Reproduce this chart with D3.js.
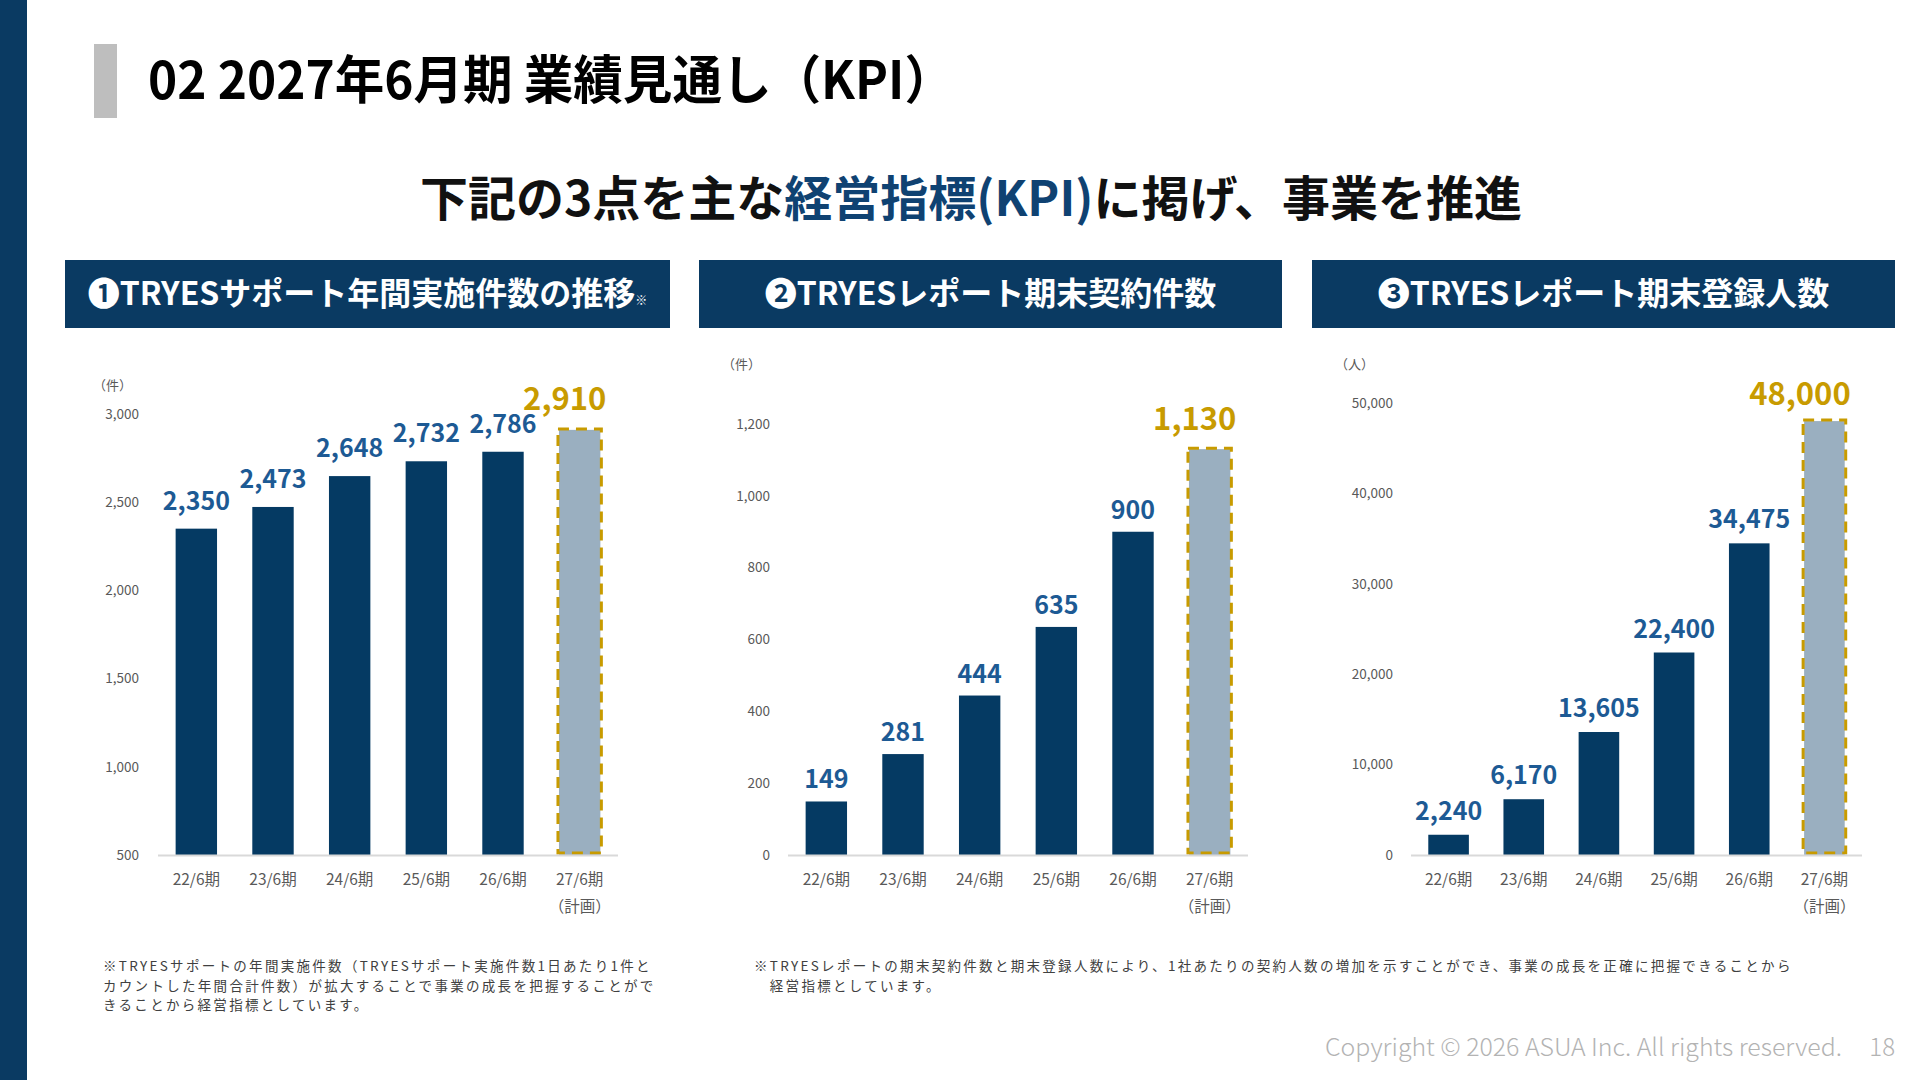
<!DOCTYPE html>
<html lang="ja">
<head>
<meta charset="UTF-8">
<title>2027年6月期 業績見通し（KPI）</title>
<style>
  body { margin: 0; background: #fff; }
  svg { display: block; font-family: "Noto Sans CJK JP", "Noto Sans", sans-serif; }
</style>
</head>
<body>
<script src="https://d3js.org/d3.v7.min.js"></script>
<script>
// data
const periods = ["22/6期", "23/6期", "24/6期", "25/6期", "26/6期", "27/6期"];
const planNote = "（計画）";
const supportCounts = [2350, 2473, 2648, 2732, 2786, 2910];
const contractCounts = [149, 281, 444, 635, 900, 1130];
const memberCounts = [2240, 6170, 13605, 22400, 34475, 48000];
const supportTicks = [500, 1000, 1500, 2000, 2500, 3000];
const contractTicks = [0, 200, 400, 600, 800, 1000, 1200];
const memberTicks = [0, 10000, 20000, 30000, 40000, 50000];
const panelTitles = ["❶TRYESサポート年間実施件数の推移", "❷TRYESレポート期末契約件数", "❸TRYESレポート期末登録人数"];
const units = ["（件）", "（件）", "（人）"];
const footnote1 = [
  "※TRYESサポートの年間実施件数（TRYESサポート実施件数1日あたり1件と",
  "カウントした年間合計件数）が拡大することで事業の成長を把握することがで",
  "きることから経営指標としています。"
];
const footnote2 = [
  "※TRYESレポートの期末契約件数と期末登録人数により、1社あたりの契約人数の増加を示すことができ、事業の成長を正確に把握できることから",
  "　経営指標としています。"
];

const navy = "#0a3a62", barNavy = "#053a63", planFill = "#9aafc0",
      gold = "#c89b00", labelBlue = "#1d5a94", tickGray = "#595959";

const svg = d3.select("body").append("svg")
  .attr("width", 1920).attr("height", 1080);

// left band + title
svg.append("rect").attr("x", 0).attr("y", 0).attr("width", 27).attr("height", 1080).attr("fill", navy);
svg.append("rect").attr("x", 94).attr("y", 44).attr("width", 23).attr("height", 74).attr("fill", "#bebebe");
svg.append("text")
  .attr("x", 148).attr("y", 99)
  .attr("font-size", 52).attr("font-weight", 700).attr("fill", "#000")
  .attr("textLength", 806).attr("lengthAdjust", "spacingAndGlyphs")
  .text("02 2027年6月期 業績見通し（KPI）");

// subtitle
const sub = svg.append("text")
  .attr("x", 971).attr("y", 216)
  .attr("text-anchor", "middle")
  .attr("font-size", 48).attr("font-weight", 700).attr("fill", "#111");
sub.append("tspan").text("下記の3点を主な");
sub.append("tspan").attr("fill", "#0f4272").text("経営指標(KPI)");
sub.append("tspan").text("に掲げ、事業を推進");

// three panels
const panels = [
  { values: supportCounts, ticks: supportTicks, box: [65, 670], x: [158, 618], y: [500, 3000], top: 414, tickX: 139, unit: [93, 385], gap: 19, planGap: 20 },
  { values: contractCounts, ticks: contractTicks, box: [699, 1282], x: [788, 1248], y: [0, 1200], top: 424, tickX: 770, unit: [722, 364], gap: 13, planGap: 19 },
  { values: memberCounts, ticks: memberTicks, box: [1312, 1895], x: [1411, 1862], y: [0, 50000], top: 403, tickX: 1393, unit: [1335, 364], gap: 15, planGap: 16 }
];
const baseY = 855;
const fmt = d3.format(",");

panels.forEach(function(p, i) {
  // header box
  svg.append("rect")
    .attr("x", p.box[0]).attr("y", 260)
    .attr("width", p.box[1] - p.box[0]).attr("height", 68)
    .attr("fill", navy);
  const head = svg.append("text")
    .attr("x", (p.box[0] + p.box[1]) / 2).attr("y", 305)
    .attr("text-anchor", "middle")
    .attr("font-size", 32).attr("font-weight", 700).attr("fill", "#fff");
  head.append("tspan").text(panelTitles[i]);
  if (i === 0) head.append("tspan").attr("font-size", 12).attr("font-weight", 400).text("※");

  const x = d3.scaleBand().domain(periods).range(p.x).paddingInner(0.46).paddingOuter(0.23);
  const y = d3.scaleLinear().domain(p.y).range([baseY, p.top]);

  const g = svg.append("g");

  // unit label
  g.append("text")
    .attr("x", p.unit[0]).attr("y", p.unit[1] + 5)
    .attr("font-size", 13).attr("fill", tickGray)
    .text(units[i]);

  // y tick labels (no axis line)
  const yAxis = g.append("g")
    .attr("transform", "translate(" + p.tickX + ",0)")
    .call(d3.axisLeft(y).tickValues(p.ticks).tickSize(0).tickPadding(0).tickFormat(fmt));
  yAxis.select(".domain").remove();
  yAxis.selectAll("text").attr("font-size", 13.5).attr("fill", tickGray)
    .attr("font-family", "'Noto Sans CJK JP', sans-serif");

  // bars
  const rows = periods.map(function(d, j) { return { period: d, value: p.values[j], plan: j === periods.length - 1 }; });
  g.selectAll("rect.bar")
    .data(rows)
    .enter().append("rect")
    .attr("class", "bar")
    .attr("x", function(d) { return x(d.period); })
    .attr("y", function(d) { return y(d.value); })
    .attr("width", x.bandwidth())
    .attr("height", function(d) { return baseY - y(d.value); })
    .attr("fill", function(d) { return d.plan ? planFill : barNavy; });

  // dashed frame on the plan bar
  const last = rows[rows.length - 1];
  g.append("rect")
    .attr("x", x(last.period) - 1).attr("y", y(last.value) - 1)
    .attr("width", x.bandwidth() + 2).attr("height", baseY - y(last.value) - 1)
    .attr("fill", "none").attr("stroke", gold).attr("stroke-width", 3)
    .attr("stroke-dasharray", "11,7");

  // baseline
  g.append("line")
    .attr("x1", p.x[0]).attr("x2", p.x[1])
    .attr("y1", baseY + 0.5).attr("y2", baseY + 0.5)
    .attr("stroke", "#d9d9d9").attr("stroke-width", 2);

  // value labels (plan label hangs right-aligned past the bar)
  g.selectAll("text.val")
    .data(rows)
    .enter().append("text")
    .attr("class", "val")
    .attr("x", function(d) { return d.plan ? x(d.period) + x.bandwidth() + 6 : x(d.period) + x.bandwidth() / 2; })
    .attr("y", function(d) { return y(d.value) - (d.plan ? p.planGap : p.gap); })
    .attr("text-anchor", function(d) { return d.plan ? "end" : "middle"; })
    .attr("font-weight", 700)
    .attr("font-size", function(d) { return d.plan ? 31 : 25; })
    .attr("fill", function(d) { return d.plan ? gold : labelBlue; })
    .text(function(d) { return fmt(d.value); });

  // category labels
  g.selectAll("text.cat")
    .data(rows)
    .enter().append("text")
    .attr("class", "cat")
    .attr("x", function(d) { return x(d.period) + x.bandwidth() / 2; })
    .attr("y", 885)
    .attr("text-anchor", "middle")
    .attr("font-size", 15.5).attr("fill", tickGray)
    .text(function(d) { return d.period; });
  g.append("text")
    .attr("x", x(last.period) + x.bandwidth() / 2).attr("y", 912)
    .attr("text-anchor", "middle")
    .attr("font-size", 15.5).attr("fill", tickGray)
    .text(planNote);
});

// footnotes
[[footnote1, 103], [footnote2, 754]].forEach(function(f) {
  svg.append("g").selectAll("text")
    .data(f[0]).enter().append("text")
    .attr("x", f[1]).attr("y", function(d, i) { return 971 + i * 19.6; })
    .attr("font-size", 13.5).attr("letter-spacing", "2.3px").attr("fill", "#404040")
    .text(function(d) { return d; });
});

// copyright + page number
svg.append("text")
  .attr("x", 1325).attr("y", 1056)
  .attr("font-size", 24).attr("font-weight", 300).attr("fill", "#b3b3b3")
  .attr("textLength", 517).attr("lengthAdjust", "spacingAndGlyphs")
  .text("Copyright © 2026 ASUA Inc. All rights reserved.");
svg.append("text")
  .attr("x", 1895).attr("y", 1056).attr("text-anchor", "end")
  .attr("font-size", 24).attr("font-weight", 300).attr("fill", "#b3b3b3")
  .text("18");
</script>
</body>
</html>
